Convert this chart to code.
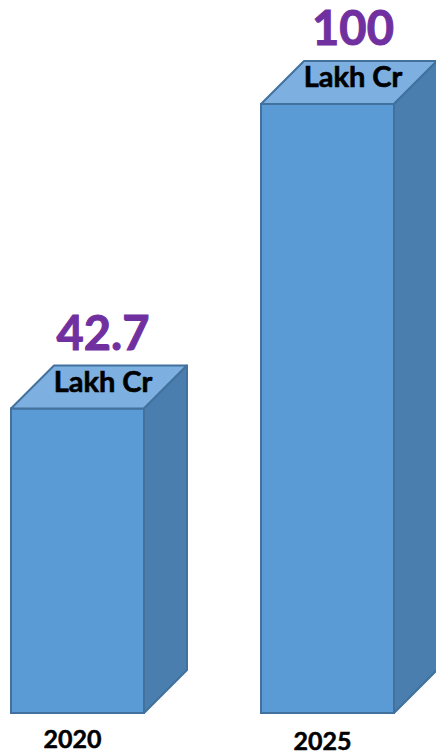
<!DOCTYPE html>
<html>
<head>
<meta charset="utf-8">
<script src="https://cdn.jsdelivr.net/npm/d3@7"></script>
<style>
  body { margin: 0; background: #fff; }
  text { font-family: Lato, "Open Sans", sans-serif; font-weight: bold; }
</style>
</head>
<body>
<div id="wrapper"></div>
<script>
const years = ['2020', '2025'];
const values = [42.7, 100];
const valueLabels = ['42.7', '100'];
const unitLabels = ['Lakh Cr', 'Lakh Cr'];

function drawBars() {
  const dataset = years.map((y, i) => ({
    year: y,
    value: values[i],
    label: valueLabels[i],
    unit: unitLabels[i]
  }));

  const dimensions = { width: 436, height: 756 };
  const depth = 43;

  const wrapper = d3
    .select('#wrapper')
    .append('svg')
    .attr('width', dimensions.width)
    .attr('height', dimensions.height);

  // scales (picture is not drawn to scale, so the baseline sits below zero)
  const xScale = d3
    .scaleBand()
    .domain(years)
    .range([11, 394])
    .paddingInner(0.468)
    .paddingOuter(0);

  const yScale = d3
    .scaleLinear()
    .domain([-14.6, 100])
    .range([713, 104]);

  const base = yScale(-14.6);
  const bw = xScale.bandwidth();

  const bars = wrapper
    .selectAll('g.bar')
    .data(dataset)
    .enter()
    .append('g')
    .attr('class', 'bar');

  // front face
  bars
    .append('rect')
    .attr('x', d => xScale(d.year))
    .attr('y', d => yScale(d.value))
    .attr('width', bw)
    .attr('height', d => base - yScale(d.value))
    .attr('fill', '#5B9BD5')
    .attr('stroke', '#41719C')
    .attr('stroke-width', 2);

  // top face
  bars
    .append('path')
    .attr('d', d => {
      const x0 = xScale(d.year), x1 = x0 + bw, y = yScale(d.value);
      return `M${x0},${y}L${x0 + depth},${y - depth}L${x1 + depth},${y - depth}L${x1},${y}Z`;
    })
    .attr('fill', '#7DB0E0')
    .attr('stroke', '#41719C')
    .attr('stroke-width', 2)
    .attr('stroke-linejoin', 'round');

  // side face
  bars
    .append('path')
    .attr('d', d => {
      const x1 = xScale(d.year) + bw, y = yScale(d.value);
      return `M${x1},${y}L${x1 + depth},${y - depth}L${x1 + depth},${base - depth}L${x1},${base}Z`;
    })
    .attr('fill', '#4A7EAE')
    .attr('stroke', '#41719C')
    .attr('stroke-width', 2)
    .attr('stroke-linejoin', 'round');

  const topCenter = d => xScale(d.year) + bw / 2 + depth / 2 + 4;

  // unit on top face
  bars
    .append('text')
    .attr('x', topCenter)
    .attr('y', d => yScale(d.value) - 17)
    .attr('text-anchor', 'middle')
    .attr('font-size', 29)
    .attr('fill', '#000')
    .attr('stroke', '#000')
    .attr('stroke-width', 0.6)
    .text(d => d.unit);

  // value above bar
  bars
    .append('text')
    .attr('x', topCenter)
    .attr('y', d => yScale(d.value) - depth - 16)
    .attr('text-anchor', 'middle')
    .attr('font-size', 47)
    .attr('fill', '#7030A0')
    .attr('stroke', '#7030A0')
    .attr('stroke-width', 1)
    .text(d => d.label);

  // category labels
  bars
    .append('text')
    .attr('x', d => xScale(d.year) + bw / 2 - 5)
    .attr('y', (d, i) => base + 35 + i * 2)
    .attr('text-anchor', 'middle')
    .attr('font-size', 25)
    .attr('fill', '#000')
    .attr('stroke', '#000')
    .attr('stroke-width', 0.5)
    .text(d => d.year);
}
drawBars();
</script>
</body>
</html>
